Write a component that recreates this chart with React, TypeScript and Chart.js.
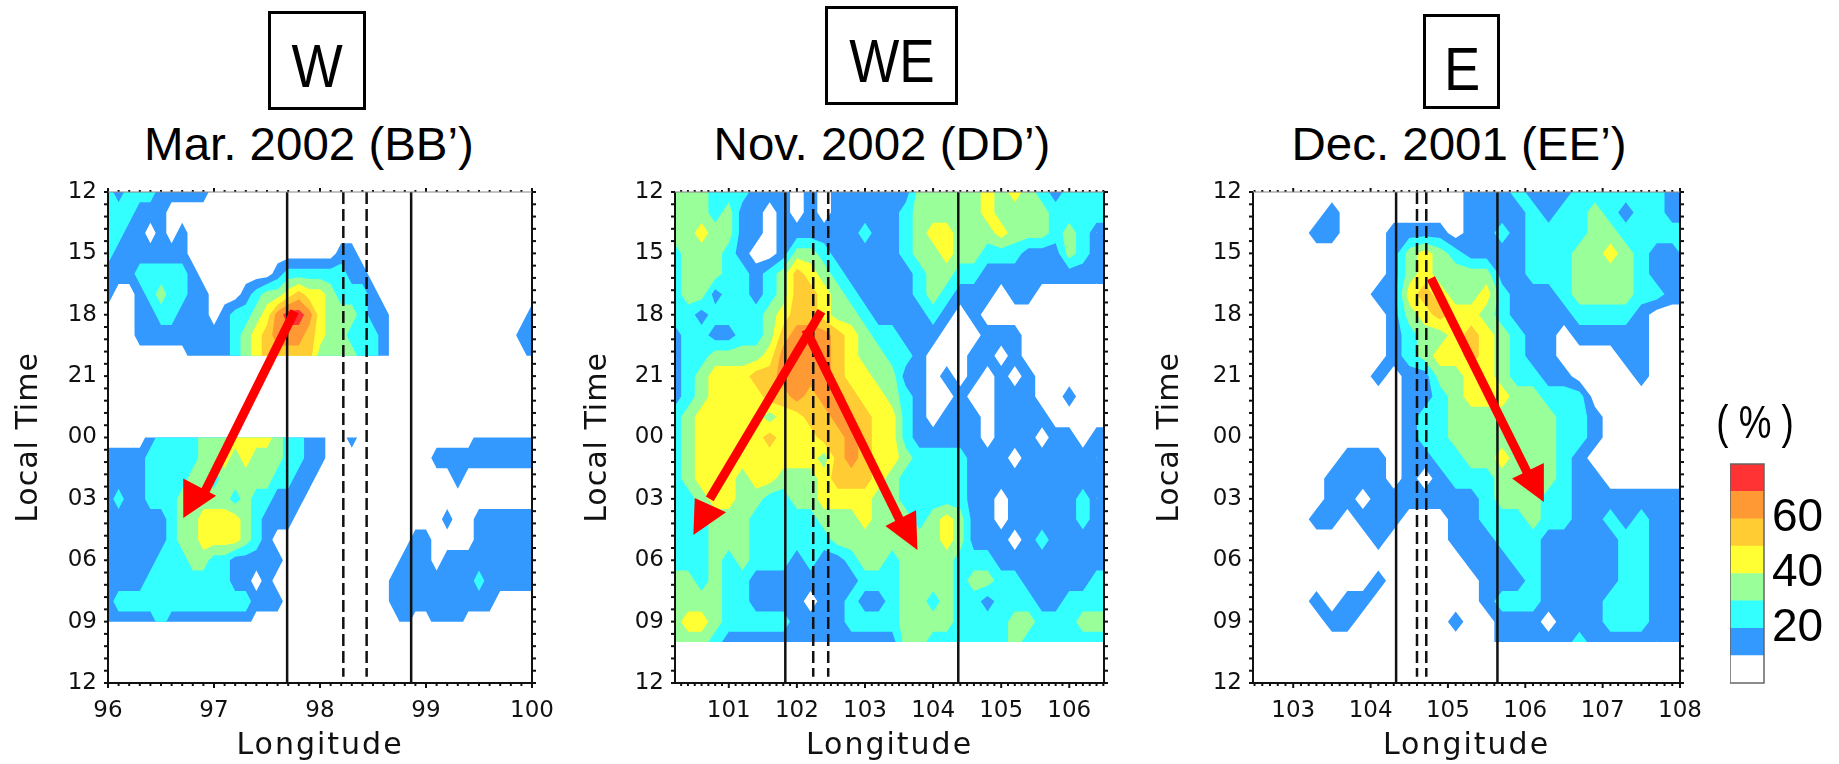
import React, { useEffect, useRef } from "react";
import { Chart, registerables } from "chart.js";

Chart.register(...registerables);

const LEVEL_COLORS = ["#ffffff", "#3399ff", "#33ffff", "#99ff99", "#ffff33", "#ffcc33", "#ff9933", "#ff3333"];

// Contour class per grid node (0 = below 10 %, 1 = 10-20 %, ... 7 = 70-80 %). Missing hours are not listed.
const p1Hours = [12, 13, 14, 15, 16, 17, 18, 19, 20, 24, 25, 26, 27, 28, 29, 30, 31, 32, 33];
const p1Rows = [
  "2122211111",
  "2221110000",
  "2211010100",
  "2111111100 0000000000 0011000000",
  "1112222210 0000001222 2221100000",
  "1001232211 0001233454 4322210000",
  "0001122111 0122346776 4333211000 00000000001",
  "0001111111 1123456665 4332221000 00000000011",
  "0000000011 1123455555 3333221000 00000000001",
  "0000122223 3344443221 1001000000 00000111111",
  "1111222223 3434333221 1000000000 01111111111",
  "1111222233 2333332211 0000000000 00010000000",
  "1211222333 3323221110",
  "1111112334 4443211100 0000000000 00100111111",
  "1111112334 4443210000 0000000001 10000111111",
  "1111122233 2211111000 0000000011 10111111111",
  "1111222222 2211010000 0000000111 11111211111",
  "1222222222 2222111000 0000000111 11111110000",
  "1111121111 1111000000 0000000010 01110000000",
];
const p2Hours = [12, 13, 14, 15, 16, 17, 18, 19, 20, 21, 22, 23, 24, 25, 26, 27, 28, 29, 30, 31, 32, 33, 34];
const p2Rows = [
  "3332221110 1011111133 3334343212 222",
  "3332311010 1011111233 3334333322 222",
  "3343311011 1111211234 4333433323 211",
  "2333210013 3211111233 4332221113 211",
  "2333221235 4321111123 3221111111 111",
  "2331221235 5432111123 2111011000 000",
  "2212222345 5433211112 1010000000 000",
  "1221122356 6654322111 0001110000 000",
  "1223333466 6654332210 0011010000 000",
  "1234445566 6654433110 1010101000 000",
  "1234444556 5665443210 0100111001 000",
  "2344444344 5565544210 1110111100 000",
  "2344444544 4556544211 1110111011 011",
  "2344444444 4356544322 2211101111 111",
  "2344434433 3455543222 2211111111 111",
  "2234433223 3444433222 2211011111 211",
  "2223332222 2333433323 4311011111 211",
  "2223332222 2233333333 4311101211 111",
  "2223232221 2112332333 3222111111 111",
  "3323221111 1111222333 3233221111 122",
  "3333221111 0112112332 3221222112 222",
  "3443222221 1112222333 3222233222 333",
  "3332111111 1111111332 2222232222 222",
];
const p3Hours = [12, 13, 14, 15, 16, 17, 18, 19, 20, 21, 22, 23, 24, 25, 26, 27, 28, 29, 30, 31, 32, 33, 34];
const p3Rows = [
  "0000000000 0000111211 122222211",
  "0000010000 0000111121 223212211",
  "0000110001 1110112122 223322222",
  "0000000001 3432111122 233432112",
  "0000000001 3433331122 233332111",
  "0000000011 4543342111 233332211",
  "0000000001 3454432111 122221000",
  "0000000001 2334543211 011111000",
  "0000000001 2344543211 000011000",
  "0000000010 1133443221 100001000",
  "0000000000 1123444332 220000000",
  "0000000000 1223333333 221000000",
  "0000000000 1223333333 221000000",
  "0000001110 1122334333 210000000",
  "0000011110 1012223333 211000000",
  "0000011011 1111123332 211111111",
  "0000110111 0001122232 211212111",
  "0000000010 0001112221 111122111",
  "0000000000 0000111221 111122111",
  "0000000010 0000011121 111122111",
  "0000101100 0000012221 111222111",
  "0000011000 0001001110 111222111",
  "0000000000 0000001111 121111111",
];

const hourTicks = [12, 15, 18, 21, 24, 27, 30, 33, 36];
const colorBarClasses = [10, 10, 10, 10, 10, 10, 10, 10];
const colorBarTicks = [20, 40, 60];

const panels = [
  {
    name: "BB",
    box: { l: 108, r: 532, t: 192, b: 683 }, canvasLeft: 0, canvasWidth: 570, titleOffset: 11,
    lonMin: 96, lonMax: 100, gridStart: 96, gridStep: 0.1, cols: 41,
    hours: p1Hours, rows: p1Rows,
    solid: [97.69, 98.86], dashed: [98.22, 98.44],
    arrows: [{ tail: [97.76, 17.83], neck: [96.87, 27.1], tip: [96.71, 27.93], b1: [96.71, 26.0], b2: [97.02, 26.85] }],
  },
  {
    name: "DD",
    box: { l: 675, r: 1104, t: 192, b: 683 }, canvasLeft: 570, canvasWidth: 570, titleOffset: 10,
    lonMin: 100.21, lonMax: 106.51, gridStart: 100.2, gridStep: 0.2, cols: 33,
    hours: p2Hours, rows: p2Rows,
    solid: [101.83, 104.37], dashed: [102.24, 102.46],
    arrows: [
      { tail: [102.36, 17.83], neck: [100.72, 27.0], tip: [100.48, 28.76], b1: [100.5, 26.96], b2: [100.96, 27.65] },
      { tail: [102.13, 18.72], neck: [103.52, 28.1], tip: [103.77, 29.5], b1: [103.3, 28.33], b2: [103.75, 27.55] },
    ],
  },
  {
    name: "EE",
    box: { l: 1253, r: 1680, t: 192, b: 683 }, canvasLeft: 1150, canvasWidth: 575, titleOffset: 2.5,
    lonMin: 102.48, lonMax: 108, gridStart: 102.5, gridStep: 0.2, cols: 29,
    hours: p3Hours, rows: p3Rows,
    solid: [104.33, 105.64], dashed: [104.6, 104.72],
    arrows: [{ tail: [104.78, 16.22], neck: [106.03, 25.75], tip: [106.24, 27.15], b1: [105.83, 26.0], b2: [106.24, 25.25] }],
  },
];

const headings = [
  { box: "W", title: "Mar. 2002 (BB\u2019)", l: 268, r: 366, t: 11, b: 110, cx: 309, squeeze: 0.89 },
  { box: "WE", title: "Nov. 2002 (DD\u2019)", l: 825, r: 958, t: 6, b: 105, cx: 882, squeeze: 0.87 },
  { box: "E", title: "Dec. 2001 (EE\u2019)", l: 1423, r: 1500, t: 14, b: 109, cx: 1459, squeeze: 0.89 },
];

const CANVAS_TOP = 180;
const CANVAS_HEIGHT = 584;

function buildGrid(panel: any) {
  const out: any[] = [];
  panel.rows.forEach((row: string, r: number) => {
    const digits = row.replace(/ /g, "").padEnd(panel.cols, "0");
    for (let c = 0; c < panel.cols; c++) {
      out.push({ x: panel.gridStart + c * panel.gridStep, y: panel.hours[r], v: Number(digits[c]) });
    }
  });
  return out;
}

function clipCell(pts: any[], thr: number) {
  const res: any[] = [];
  for (let i = 0; i < pts.length; i++) {
    const a = pts[i];
    const b = pts[(i + 1) % pts.length];
    const ain = a.v >= thr;
    const bin = b.v >= thr;
    if (ain) res.push(a);
    if (ain !== bin) {
      const f = (thr - a.v) / (b.v - a.v);
      res.push({ px: a.px + f * (b.px - a.px), py: a.py + f * (b.py - a.py), v: thr });
    }
  }
  return res;
}

const panelPlugin = {
  id: "panelPlugin",
  beforeDatasetsDraw(chart: any) {
    const { ctx, chartArea: a, scales } = chart;
    const ds = chart.data.datasets.find((d: any) => d.gridCols);
    if (!ds) return;
    const cols = ds.gridCols;
    const nodes = ds.data.map((n: any) => ({ px: scales.x.getPixelForValue(n.x), py: scales.y.getPixelForValue(n.y), v: n.v, y: n.y }));
    const nRows = nodes.length / cols;
    ctx.save();
    ctx.beginPath();
    ctx.rect(a.left, a.top, a.right - a.left, a.bottom - a.top);
    ctx.clip();
    for (let level = 1; level < LEVEL_COLORS.length; level++) {
      const thr = level - 0.5;
      ctx.beginPath();
      for (let r = 0; r < nRows - 1; r++) {
        if (nodes[(r + 1) * cols].y - nodes[r * cols].y > 1) continue;
        for (let c = 0; c < cols - 1; c++) {
          const quad = [nodes[r * cols + c], nodes[r * cols + c + 1], nodes[(r + 1) * cols + c + 1], nodes[(r + 1) * cols + c]];
          if (quad.every((q) => q.v < thr)) continue;
          const poly = clipCell(quad, thr);
          if (poly.length < 3) continue;
          ctx.moveTo(poly[0].px, poly[0].py);
          for (let i = 1; i < poly.length; i++) ctx.lineTo(poly[i].px, poly[i].py);
          ctx.closePath();
        }
      }
      ctx.fillStyle = LEVEL_COLORS[level];
      ctx.fill();
    }
    ctx.restore();
  },
  afterDatasetsDraw(chart: any) {
    const { ctx, chartArea: a, scales } = chart;
    chart.data.datasets.forEach((d: any) => {
      if (!d.arrowHead) return;
      ctx.beginPath();
      d.data.forEach((p: any, i: number) => {
        const x = scales.x.getPixelForValue(p.x);
        const y = scales.y.getPixelForValue(p.y);
        if (i === 0) ctx.moveTo(x, y);
        else ctx.lineTo(x, y);
      });
      ctx.closePath();
      ctx.fillStyle = "#ff0000";
      ctx.fill();
    });
    // frame and dense tick marks
    ctx.save();
    ctx.strokeStyle = "#111";
    ctx.lineWidth = 2;
    const seg = (x1: number, y1: number, x2: number, y2: number) => {
      ctx.beginPath();
      ctx.moveTo(x1, y1);
      ctx.lineTo(x2, y2);
      ctx.stroke();
    };
    seg(a.left, a.top, a.left, a.bottom + 1);
    seg(a.left - 1, a.bottom, a.right + 1, a.bottom);
    seg(a.right, a.top, a.right, a.bottom + 1);
    for (let k = 0; k <= 40; k++) {
      const y = scales.y.getPixelForValue(12 + k * 0.6);
      seg(a.left - 4, y, a.left, y);
      seg(a.right, y, a.right + 4, y);
    }
    const x0 = Math.ceil(scales.x.min * 10 - 1e-6);
    const x1 = Math.floor(scales.x.max * 10 + 1e-6);
    for (let k = x0; k <= x1; k++) {
      const x = scales.x.getPixelForValue(k / 10);
      const major = k % 10 === 0;
      seg(x, a.bottom, x, a.bottom + (major ? 5 : 3));
      seg(x, a.top - (major ? 4 : 2), x, a.top);
    }
    ctx.strokeStyle = "#888";
    ctx.lineWidth = 1;
    seg(a.left, a.top, a.right, a.top);
    ctx.restore();
  },
};

const barFramePlugin = {
  id: "barFramePlugin",
  afterDatasetsDraw(chart: any) {
    const { ctx, chartArea: a } = chart;
    ctx.save();
    ctx.strokeStyle = "#666";
    ctx.lineWidth = 1.5;
    ctx.strokeRect(a.left, a.top, a.right - a.left, a.bottom - a.top);
    ctx.restore();
  },
};

// Axis titles of the reference are letter-spaced; only the title drawing gets the spacing.
function spaceTitle(scale: any, spacing: string) {
  if (scale.$spaced) return;
  scale.$spaced = true;
  const original = scale.drawTitle;
  scale.drawTitle = function (...args: any[]) {
    const ctx = this.ctx;
    ctx.save();
    ctx.letterSpacing = spacing;
    original.apply(this, args);
    ctx.restore();
  };
}

function makePanelChart(canvas: HTMLCanvasElement, panel: any) {
  const { box, canvasLeft, canvasWidth } = panel;
  const datasets: any[] = [];
  panel.arrows.forEach((arrow: any, i: number) => {
    datasets.push({
      label: `arrow shaft ${i + 1}`, data: [{ x: arrow.tail[0], y: arrow.tail[1] }, { x: arrow.neck[0], y: arrow.neck[1] }],
      showLine: true, borderColor: "#ff0000", borderWidth: 9, pointRadius: 0,
    });
    datasets.push({
      label: `arrow head ${i + 1}`, arrowHead: true, showLine: false, pointRadius: 0,
      data: [{ x: arrow.b1[0], y: arrow.b1[1] }, { x: arrow.tip[0], y: arrow.tip[1] }, { x: arrow.b2[0], y: arrow.b2[1] }],
    });
  });
  panel.solid.forEach((lon: number) => {
    datasets.push({ label: "boundary", data: [{ x: lon, y: 12 }, { x: lon, y: 36 }], showLine: true, borderColor: "#111", borderWidth: 2.5, pointRadius: 0 });
  });
  panel.dashed.forEach((lon: number) => {
    datasets.push({ label: "coast", data: [{ x: lon, y: 12 }, { x: lon, y: 35.7 }], showLine: true, borderColor: "#111", borderWidth: 2.5, borderDash: [12, 5], pointRadius: 0 });
  });
  datasets.push({ label: "cloud frequency", gridCols: panel.cols, data: buildGrid(panel), showLine: false, pointRadius: 0 });

  return new Chart(canvas, {
    type: "scatter",
    data: { datasets },
    options: {
      animation: false,
      responsive: false,
      layout: { padding: { left: 0, top: box.t - CANVAS_TOP, right: canvasLeft + canvasWidth - box.r, bottom: 0 } },
      plugins: { legend: { display: false }, tooltip: { enabled: false } },
      scales: {
        x: {
          type: "linear", min: panel.lonMin, max: panel.lonMax,
          grid: { display: false, drawTicks: false }, border: { display: false },
          afterFit: (s: any) => { s.height = CANVAS_TOP + CANVAS_HEIGHT - box.b; s.paddingLeft = 0; s.paddingRight = 0; spaceTitle(s, "2px"); },
          ticks: { stepSize: 1, includeBounds: false, padding: 14, maxRotation: 0, autoSkip: false, color: "#111", font: { family: "DejaVu Sans", size: 23 } },
          title: { display: true, text: "Longitude", color: "#111", padding: { top: 0, bottom: 0 }, font: { family: "DejaVu Sans", size: 30 } },
        },
        y: {
          type: "linear", reverse: true, min: 12, max: 36,
          grid: { display: false, drawTicks: false }, border: { display: false },
          afterFit: (s: any) => { s.width = box.l - canvasLeft; s.paddingTop = 0; s.paddingBottom = 0; spaceTitle(s, "1px"); },
          afterBuildTicks: (s: any) => { s.ticks = hourTicks.map((value) => ({ value })); },
          ticks: { padding: 11, autoSkip: false, color: "#111", font: { family: "DejaVu Sans", size: 23 }, callback: (v: any) => String(v % 24).padStart(2, "0") },
          title: { display: true, text: "Local Time", color: "#111", padding: { top: panel.titleOffset, bottom: 0 }, font: { family: "DejaVu Sans", size: 30 } },
        },
      },
    },
    plugins: [panelPlugin],
  } as any);
}

function makeColorBar(canvas: HTMLCanvasElement) {
  return new Chart(canvas, {
    type: "bar",
    data: {
      labels: ["%"],
      datasets: colorBarClasses.map((v, i) => ({ label: `class ${i}`, data: [v], backgroundColor: LEVEL_COLORS[i], stack: "s", barPercentage: 1, categoryPercentage: 1 })),
    },
    options: {
      animation: false,
      responsive: false,
      layout: { padding: { top: 24, bottom: 21, left: 0, right: 0 } },
      plugins: { legend: { display: false }, tooltip: { enabled: false } },
      scales: {
        x: { display: false, stacked: true },
        y: {
          position: "right", stacked: true, min: 0, max: 80,
          grid: { display: false, drawTicks: false }, border: { display: false },
          afterFit: (s: any) => { s.width = 70; s.paddingTop = 0; s.paddingBottom = 0; },
          afterBuildTicks: (s: any) => { s.ticks = colorBarTicks.map((value) => ({ value })); },
          ticks: { padding: 8, color: "#000", font: { family: "Liberation Sans", size: 46 } },
        },
      },
    },
    plugins: [barFramePlugin],
  } as any);
}

const textBase: React.CSSProperties = { position: "absolute", fontFamily: "'Liberation Sans'", color: "#000", whiteSpace: "pre", lineHeight: 1 };

export default function App() {
  const refs = useRef<(HTMLCanvasElement | null)[]>([]);
  const barRef = useRef<HTMLCanvasElement | null>(null);

  useEffect(() => {
    const charts = panels.map((p, i) => makePanelChart(refs.current[i] as HTMLCanvasElement, p));
    charts.push(makeColorBar(barRef.current as HTMLCanvasElement));
    return () => charts.forEach((c) => c.destroy());
  }, []);

  return (
    <div style={{ position: "absolute", left: 0, top: 0, width: 1839, height: 764, background: "#fff", overflow: "hidden" }}>
      {panels.map((p, i) => (
        <canvas
          key={p.name}
          ref={(el) => { refs.current[i] = el; }}
          width={p.canvasWidth}
          height={CANVAS_HEIGHT}
          style={{ position: "absolute", left: p.canvasLeft, top: CANVAS_TOP, width: p.canvasWidth, height: CANVAS_HEIGHT }}
        />
      ))}
      <canvas ref={barRef} width={104} height={264} style={{ position: "absolute", left: 1730, top: 440, width: 104, height: 264 }} />
      {headings.map((h) => (
        <React.Fragment key={h.box}>
          <div style={{ position: "absolute", left: h.l, top: h.t, width: h.r - h.l, height: h.b - h.t, border: "3px solid #000", boxSizing: "border-box" }} />
          <div style={{ ...textBase, left: (h.l + h.r) / 2, top: h.t + 25, fontSize: 61, transform: `translateX(-50%) scaleX(${h.squeeze})` }}>{h.box}</div>
          <div style={{ ...textBase, left: h.cx, top: 120, fontSize: 47, transform: "translateX(-50%) scaleX(1.01)" }}>{h.title}</div>
        </React.Fragment>
      ))}
      <div style={{ ...textBase, left: 1755, top: 399, fontSize: 46, transform: "translateX(-50%) scaleX(0.8)" }}>{"( % )"}</div>
    </div>
  );
}
